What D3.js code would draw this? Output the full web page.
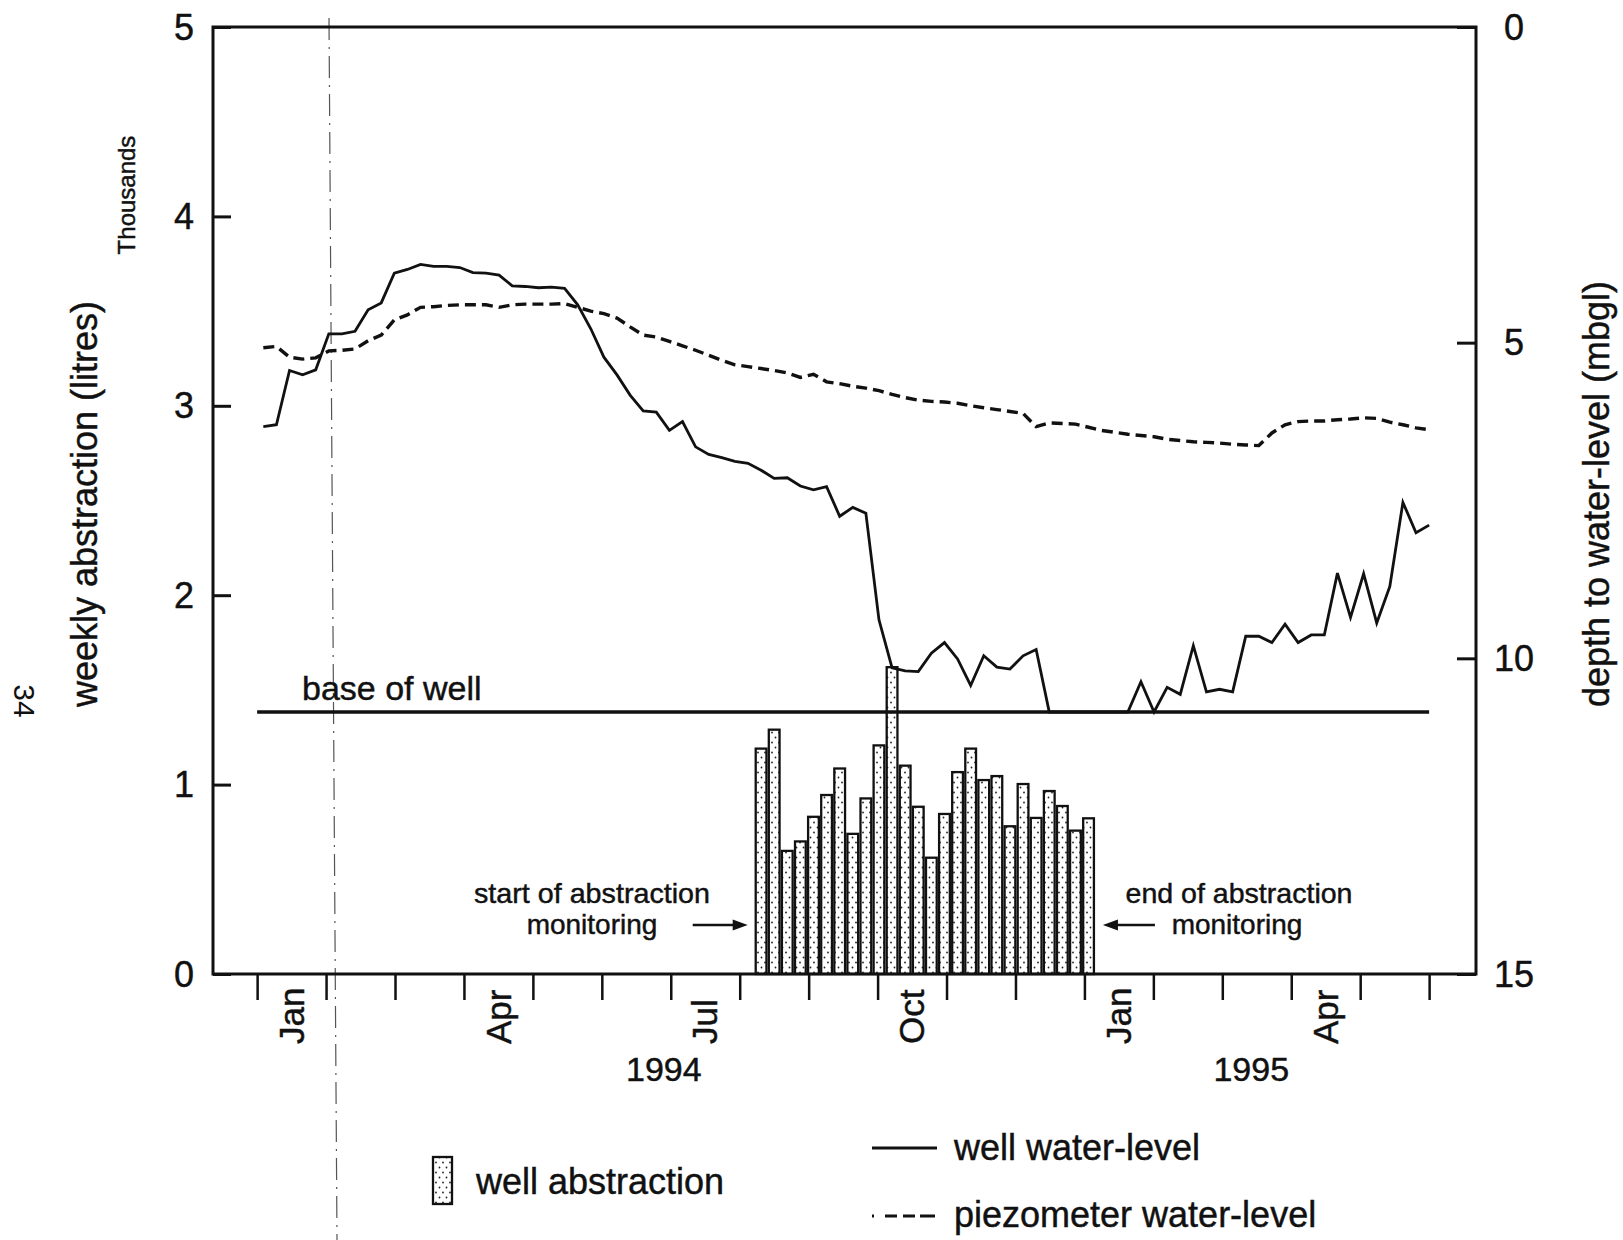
<!DOCTYPE html>
<html>
<head>
<meta charset="utf-8">
<script src="https://cdn.jsdelivr.net/npm/d3@7"></script>
<style>
  html, body { margin: 0; padding: 0; background: #fff; }
  svg { display: block; }
  text { font-family: "Liberation Sans", Arial, Helvetica, sans-serif; fill: #111; stroke: #111; stroke-width: 0.45px; }
</style>
</head>
<body>
<svg id="chart" width="1623" height="1240"></svg>
<script>
// ---- data ---------------------------------------------------------------
// Month ticks, counted in months from 1 January 1994
const monthTicks = [0, 1, 2, 3, 4, 5, 6, 7, 8, 9, 10, 11, 12, 13, 14, 15, 16, 17];
const monthLabelMonths = [0, 3, 6, 9, 12, 15];
const monthLabels = ["Jan", "Apr", "Jul", "Oct", "Jan", "Apr"];
const yearLabels = ["1994", "1995"];
const yearLabelMonths = [5.9, 14.42];

// Left axis: weekly abstraction, thousands of litres
const abstractionTicks = [0, 1, 2, 3, 4, 5];
// Right axis: depth to water-level, metres below ground level
const depthTicks = [0, 5, 10, 15];

// Readings: first reading month and spacing between readings (months)
const FIRST_READING = 0.09;
const READING_STEP = 0.19;

// Well water-level (mbgl), one value per reading
const wellLevel = [
  6.33, 6.30, 5.44, 5.51, 5.43, 4.86, 4.86, 4.82, 4.48, 4.37,
  3.90, 3.84, 3.76, 3.79, 3.79, 3.81, 3.89, 3.90, 3.93, 4.10,
  4.11, 4.13, 4.12, 4.14, 4.40, 4.78, 5.23, 5.51, 5.83, 6.08,
  6.10, 6.39, 6.25, 6.65, 6.77, 6.82, 6.88, 6.91, 7.02, 7.15,
  7.14, 7.27, 7.33, 7.28, 7.75, 7.61, 7.70, 9.39, 10.15, 10.20,
  10.21, 9.92, 9.75, 10.01, 10.43, 9.96, 10.14, 10.17, 9.96, 9.86,
  10.85, 10.85, 10.85, 10.85, 10.85, 10.85, 10.85, 10.37, 10.85, 10.46,
  10.57, 9.80, 10.53, 10.49, 10.53, 9.65, 9.65, 9.75, 9.46, 9.75,
  9.63, 9.63, 8.65, 9.35, 8.66, 9.44, 8.86, 7.53, 8.01, 7.89
];

// Piezometer water-level (mbgl), same readings
const piezometerLevel = [
  5.08, 5.06, 5.23, 5.26, 5.24, 5.13, 5.12, 5.10, 4.97, 4.88,
  4.64, 4.56, 4.44, 4.43, 4.41, 4.40, 4.40, 4.40, 4.44, 4.40,
  4.39, 4.39, 4.39, 4.38, 4.44, 4.50, 4.54, 4.61, 4.75, 4.88,
  4.91, 4.98, 5.05, 5.12, 5.20, 5.28, 5.35, 5.38, 5.41, 5.44,
  5.48, 5.55, 5.50, 5.62, 5.65, 5.69, 5.72, 5.76, 5.82, 5.87,
  5.91, 5.93, 5.94, 5.96, 6.00, 6.03, 6.06, 6.09, 6.12, 6.33,
  6.27, 6.28, 6.29, 6.34, 6.39, 6.42, 6.45, 6.47, 6.49, 6.53,
  6.55, 6.57, 6.58, 6.59, 6.61, 6.62, 6.63, 6.43, 6.30, 6.25,
  6.24, 6.24, 6.22, 6.21, 6.19, 6.20, 6.26, 6.30, 6.35, 6.38
];

// Weekly abstraction (thousand litres) during the monitoring period
const abstractionFirstReading = 38;
const weeklyAbstraction = [
  1.19, 1.29, 0.65, 0.70, 0.83, 0.945, 1.085, 0.74, 0.927, 1.207,
  1.62, 1.10, 0.883, 0.614, 0.845, 1.066, 1.19, 1.024, 1.045, 0.78,
  1.003, 0.824, 0.966, 0.887, 0.757, 0.822
];

// Depth of the base of the well (mbgl)
const baseOfWell = 10.85;

// ---- layout -------------------------------------------------------------
const frame = { left: 213, right: 1476, top: 27, bottom: 974 };
const svg = d3.select("#chart");

const x = d3.scaleLinear().domain([-0.64, 17.68]).range([frame.left, frame.right]);
const yLeft = d3.scaleLinear().domain([0, 5]).range([frame.bottom, frame.top]);
const yRight = d3.scaleLinear().domain([0, 15]).range([frame.top, frame.bottom]);
const readingMonth = i => FIRST_READING + i * READING_STEP;

// stipple fill for abstraction bars
const defs = svg.append("defs");
const pat = defs.append("pattern")
  .attr("id", "stipple").attr("patternUnits", "userSpaceOnUse")
  .attr("width", 7).attr("height", 10);
pat.append("rect").attr("width", 7).attr("height", 10).attr("fill", "#fff");
pat.append("circle").attr("cx", 2).attr("cy", 2.5).attr("r", 0.9).attr("fill", "#222");
pat.append("circle").attr("cx", 5.5).attr("cy", 7.5).attr("r", 0.9).attr("fill", "#222");

// fold mark running down the sheet
svg.append("line")
  .attr("x1", 329).attr("y1", 18).attr("x2", 337).attr("y2", 1240)
  .attr("stroke", "#555").attr("stroke-width", 1.2)
  .attr("stroke-dasharray", "22,7,2,7");

// ---- bars -----------------------------------------------------------------
const barW = (x(READING_STEP) - x(0)) * 0.82;
svg.append("g").selectAll("rect")
  .data(weeklyAbstraction)
  .join("rect")
  .attr("x", (d, k) => x(readingMonth(abstractionFirstReading + k)) - barW / 2)
  .attr("y", d => yLeft(d))
  .attr("width", barW)
  .attr("height", d => yLeft(0) - yLeft(d))
  .attr("fill", "url(#stipple)")
  .attr("stroke", "#111").attr("stroke-width", 2.3);

// ---- base of well --------------------------------------------------------
svg.append("line")
  .attr("x1", x(monthTicks[0])).attr("x2", x(monthTicks[monthTicks.length - 1]))
  .attr("y1", yRight(baseOfWell)).attr("y2", yRight(baseOfWell))
  .attr("stroke", "#111").attr("stroke-width", 3.5);
svg.append("text")
  .attr("x", 302).attr("y", yRight(baseOfWell) - 12)
  .attr("font-size", 34)
  .text("base of well");

// ---- water-level lines ---------------------------------------------------
const line = d3.line()
  .x((d, i) => x(readingMonth(i)))
  .y(d => yRight(d));

svg.append("path")
  .datum(piezometerLevel)
  .attr("d", line)
  .attr("fill", "none").attr("stroke", "#111")
  .attr("stroke-width", 3.4).attr("stroke-dasharray", "11,6");

svg.append("path")
  .datum(wellLevel)
  .attr("d", line)
  .attr("fill", "none").attr("stroke", "#111")
  .attr("stroke-width", 2.8).attr("stroke-linejoin", "miter");

// ---- frame & axes --------------------------------------------------------
svg.append("rect")
  .attr("x", frame.left).attr("y", frame.top)
  .attr("width", frame.right - frame.left).attr("height", frame.bottom - frame.top)
  .attr("fill", "none").attr("stroke", "#111").attr("stroke-width", 3);

const leftAxis = svg.append("g")
  .attr("transform", `translate(${frame.left},0)`)
  .call(d3.axisRight(yLeft).tickValues(abstractionTicks).tickSize(18).tickFormat(""));
leftAxis.select(".domain").remove();
leftAxis.selectAll("line").attr("stroke", "#111").attr("stroke-width", 3);

svg.append("g").selectAll("text")
  .data(abstractionTicks)
  .join("text")
  .attr("x", 194).attr("y", d => yLeft(d)).attr("dy", "0.35em")
  .attr("text-anchor", "end").attr("font-size", 36)
  .text(d => d);

const rightAxis = svg.append("g")
  .attr("transform", `translate(${frame.right},0)`)
  .call(d3.axisLeft(yRight).tickValues(depthTicks).tickSize(19).tickFormat(""));
rightAxis.select(".domain").remove();
rightAxis.selectAll("line").attr("stroke", "#111").attr("stroke-width", 3);

svg.append("g").selectAll("text")
  .data(depthTicks)
  .join("text")
  .attr("x", 1514).attr("y", d => yRight(d)).attr("dy", "0.35em")
  .attr("text-anchor", "middle").attr("font-size", 36)
  .text(d => d);

const bottomAxis = svg.append("g")
  .attr("transform", `translate(0,${frame.bottom})`)
  .call(d3.axisBottom(x).tickValues(monthTicks).tickSize(26).tickFormat(""));
bottomAxis.select(".domain").remove();
bottomAxis.selectAll("line").attr("stroke", "#111").attr("stroke-width", 2.5);

// month names, rotated, centred in their month
svg.append("g").selectAll("text")
  .data(monthLabels)
  .join("text")
  .attr("transform", (d, i) => `translate(${x(monthLabelMonths[i] + 0.5)},1044) rotate(-90)`)
  .attr("dy", "0.35em")
  .attr("font-size", 35)
  .text(d => d);

svg.append("g").selectAll("text")
  .data(yearLabels)
  .join("text")
  .attr("x", (d, i) => x(yearLabelMonths[i])).attr("y", 1081)
  .attr("text-anchor", "middle").attr("font-size", 34)
  .text(d => d);

// ---- axis titles ---------------------------------------------------------
svg.append("text")
  .attr("transform", "translate(97,504) rotate(-90)")
  .attr("text-anchor", "middle").attr("font-size", 36)
  .text("weekly abstraction (litres)");
svg.append("text")
  .attr("transform", "translate(135,195) rotate(-90)")
  .attr("text-anchor", "middle").attr("font-size", 24)
  .text("Thousands");
svg.append("text")
  .attr("transform", "translate(1609,494) rotate(-90)")
  .attr("text-anchor", "middle").attr("font-size", 36)
  .text("depth to water-level (mbgl)");

// page number
svg.append("text")
  .attr("transform", "translate(14,701) rotate(90)")
  .attr("text-anchor", "middle").attr("font-size", 30)
  .style("stroke-width", 0)
  .text("34");

// ---- monitoring annotations ---------------------------------------------
const firstBarX = x(readingMonth(abstractionFirstReading)) - barW / 2;
const lastBarX = x(readingMonth(abstractionFirstReading + weeklyAbstraction.length - 1)) + barW / 2;
const arrowY = 925;

function arrow(x1, x2) {
  const dir = Math.sign(x2 - x1);
  svg.append("line")
    .attr("x1", x1).attr("x2", x2 - dir * 12).attr("y1", arrowY).attr("y2", arrowY)
    .attr("stroke", "#111").attr("stroke-width", 2.6);
  svg.append("path")
    .attr("d", `M${x2},${arrowY} L${x2 - dir * 15},${arrowY - 5.5} L${x2 - dir * 15},${arrowY + 5.5} Z`)
    .attr("fill", "#111");
}
arrow(firstBarX - 63, firstBarX - 8);
arrow(lastBarX + 61, lastBarX + 9);

const ann = svg.append("g").attr("font-size", 28).attr("text-anchor", "middle");
ann.append("text").attr("x", 592).attr("y", 903).attr("textLength", 236).attr("lengthAdjust", "spacingAndGlyphs").text("start of abstraction");
ann.append("text").attr("x", 592).attr("y", 934).text("monitoring");
ann.append("text").attr("x", 1239).attr("y", 903).attr("textLength", 227).attr("lengthAdjust", "spacingAndGlyphs").text("end of abstraction");
ann.append("text").attr("x", 1237).attr("y", 934).text("monitoring");

// ---- legend ---------------------------------------------------------------
const legend = svg.append("g");
legend.append("rect")
  .attr("x", 433).attr("y", 1157).attr("width", 19).attr("height", 47)
  .attr("fill", "url(#stipple)").attr("stroke", "#111").attr("stroke-width", 2.3);
legend.append("text").attr("x", 476).attr("y", 1194).attr("font-size", 36).text("well abstraction");

legend.append("line")
  .attr("x1", 872).attr("x2", 937).attr("y1", 1148).attr("y2", 1148)
  .attr("stroke", "#111").attr("stroke-width", 2.8);
legend.append("text").attr("x", 954).attr("y", 1160).attr("font-size", 36).text("well water-level");

legend.append("line")
  .attr("x1", 872).attr("x2", 937).attr("y1", 1216).attr("y2", 1216)
  .attr("stroke", "#111").attr("stroke-width", 3).attr("stroke-dasharray", "2,11,12,6,12,5,15,100");
legend.append("text").attr("x", 954).attr("y", 1227).attr("font-size", 36).text("piezometer water-level");
</script>
</body>
</html>
